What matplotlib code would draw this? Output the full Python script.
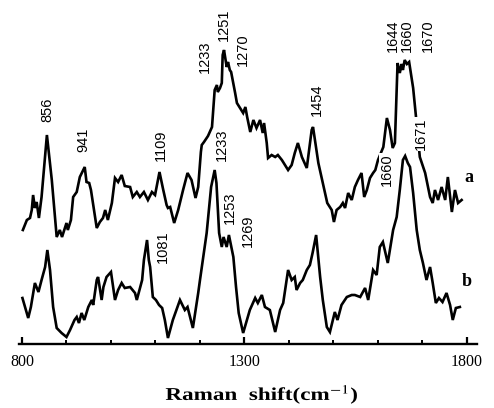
import matplotlib
matplotlib.use("Agg")
import matplotlib.pyplot as plt
from matplotlib.patheffects import AbstractPathEffect
from matplotlib.transforms import Affine2D
from matplotlib.ticker import MultipleLocator, FixedLocator

# ---- spectrum a (wavenumber in cm^-1, relative intensity) ----
shift_a = [802, 811, 818, 822, 825, 829, 833, 838, 844, 856, 867, 878, 885, 890,
           900, 903, 910, 915, 923, 930, 941, 945, 951, 955, 968, 975, 982, 987,
           993, 1002, 1009, 1016, 1024, 1031, 1043, 1049, 1058, 1065, 1074, 1083,
           1092, 1099, 1109, 1117, 1125, 1128, 1133, 1142, 1151, 1162, 1172, 1181,
           1190, 1196, 1202, 1204, 1209, 1215, 1218, 1227, 1233, 1238, 1240, 1245,
           1249, 1251, 1254, 1260, 1263, 1267, 1270, 1279, 1283, 1290, 1297, 1302,
           1306, 1313, 1320, 1327, 1335, 1341, 1344, 1350, 1353, 1361, 1369, 1375,
           1384, 1391, 1398, 1406, 1413, 1420, 1429, 1440, 1446, 1451, 1454, 1466,
           1476, 1486, 1496, 1501, 1507, 1515, 1521, 1526, 1533, 1541, 1548, 1555,
           1563, 1569, 1575, 1582, 1589, 1594, 1600, 1612, 1620, 1627, 1633, 1638,
           1644, 1649, 1653, 1656, 1660, 1665, 1670, 1679, 1685, 1690, 1694, 1706,
           1717, 1723, 1728, 1735, 1743, 1751, 1757, 1766, 1773, 1780, 1788]
inten_a = [114, 124, 126, 134, 149, 136, 142, 126, 147, 209, 164, 107, 114, 107,
           121, 114, 124, 147, 152, 167, 177, 162, 161, 154, 116, 122, 126, 134,
           124, 141, 166, 162, 169, 158, 157, 147, 152, 147, 152, 144,
           152, 149, 172, 155, 139, 136, 137, 121, 134, 154, 171, 164,
           146, 157, 192, 199, 202, 206, 208, 217, 254, 259, 252, 256,
           261, 289, 294, 277, 282, 274, 272, 251, 241, 236, 231, 237,
           227, 212, 224, 216, 224, 211, 221, 201, 186, 189, 187, 189,
           184, 179, 174, 179, 191, 201, 187, 176, 197, 214, 217, 181,
           161, 141, 134, 122, 134, 137, 141, 136, 151, 144, 157, 164,
           171, 147, 154, 166, 171, 174, 184, 197, 226, 214, 196, 201,
           281, 271, 280, 274, 284, 280, 282, 256, 229, 205, 187, 171,
           147, 141, 154, 144, 157, 144, 167, 132, 154, 141, 144]

# ---- spectrum b ----
shift_b = [801, 814, 820, 829, 837, 844, 852, 857, 863, 870, 878, 889, 900, 908,
           918, 923, 928, 934, 940, 949, 957, 960, 968, 971, 979, 983, 990, 1000,
           1009, 1016, 1024, 1031, 1043, 1054, 1058, 1070, 1074, 1081, 1085, 1088,
           1094, 1101, 1108, 1115, 1121, 1128, 1139, 1155, 1166, 1172, 1184, 1196,
           1200, 1215, 1225, 1233, 1237, 1243, 1249, 1253, 1260, 1265, 1275, 1281,
           1287, 1297, 1312, 1324, 1330, 1339, 1346, 1357, 1369, 1380, 1387, 1398,
           1406, 1413, 1417, 1425, 1431, 1440, 1447, 1453, 1461, 1470, 1476, 1485,
           1492, 1503, 1509, 1518, 1530, 1541, 1548, 1560, 1571, 1578, 1589, 1597,
           1604, 1611, 1622, 1634, 1642, 1649, 1656, 1661, 1667, 1672, 1679, 1687,
           1694, 1701, 1709, 1717, 1723, 1730, 1737, 1745, 1754, 1762, 1768, 1775,
           1784]
inten_b = [46, 26, 37, 61, 52, 64, 77, 94, 74, 37, 16, 11, 7, 14,
           24, 27, 21, 31, 24, 37, 44, 39, 64, 67, 44, 57, 67, 72,
           44, 54, 61, 56, 57, 51, 44, 64, 84, 104, 84, 77,
           47, 44, 39, 36, 24, 6, 24, 44, 34, 37, 16, 51,
           64, 111, 157, 174, 161, 111, 97, 107, 97, 109, 87, 57,
           31, 11, 34, 46, 41, 49, 37, 34, 12, 34, 41, 74,
           64, 67, 54, 61, 64, 74, 79, 91, 109, 67, 44, 17,
           12, 32, 24, 39, 47, 49, 49, 47, 56, 44, 74, 69,
           97, 102, 81, 114, 127, 154, 184, 188, 181, 177, 151, 114,
           94, 81, 64, 77, 61, 41, 46, 42, 51, 39, 24, 36,
           37]

# ---- peak annotations: text, x (cm^-1), y (intensity) ----
peak_text = ["856", "941", "1109", "1233", "1251", "1270", "1454", "1644", "1660", "1670",
             "1081", "1233", "1253", "1269", "1660", "1671"]
peak_x = [858, 939, 1112, 1211, 1254, 1297, 1463, 1634, 1665, 1713,
          1117, 1249, 1267, 1308, 1620, 1697]
peak_y = [234, 204, 199, 287, 319, 294, 244, 308, 308, 308,
          97, 199, 136, 113, 174, 210]

series_names = ["a", "b"]
series_label_x = [1805, 1800]
series_label_y = [166, 62]

tick_major = [800, 1300, 1800]


class HorizontalStretch(AbstractPathEffect):
    """Widen glyph outlines horizontally about the centre of the string."""

    def __init__(self, factor):
        super().__init__()
        self._factor = factor

    def draw_path(self, renderer, gc, tpath, affine, rgbFace=None):
        ext = tpath.get_extents(affine)
        cx = 0.5 * (ext.x0 + ext.x1)
        stretched = affine + Affine2D().translate(-cx, 0).scale(self._factor, 1).translate(cx, 0)
        renderer.draw_path(gc, tpath, stretched, rgbFace)


plt.rcParams["mathtext.fontset"] = "stix"

W, H = 494, 408
fig = plt.figure(figsize=(W / 100, H / 100), dpi=100)
ax = fig.add_axes([19 / W, 64 / H, 458 / W, 344 / H])

ax.plot(shift_a, inten_a, color="black", lw=1.9, solid_joinstyle="miter", zorder=2)
ax.plot(shift_b, inten_b, color="black", lw=1.9, solid_joinstyle="miter", zorder=2)

for t, x, y in zip(peak_text, peak_x, peak_y):
    ax.text(x, y, t, rotation=90, ha="center", va="center",
            fontsize=10.5, family="Liberation Sans", color="black", zorder=3,
            bbox=dict(facecolor="white", edgecolor="none", pad=0.6))

for t, x, y in zip(series_names, series_label_x, series_label_y):
    ax.text(x, y, t, ha="center", va="center", fontsize=13,
            family="Liberation Serif", fontweight="bold", zorder=3)

ax.set_xlim(793.3, 1822.5)
ax.set_ylim(0, 344)
for side in ("top", "left", "right"):
    ax.spines[side].set_visible(False)
ax.spines["bottom"].set_linewidth(1.7)
ax.set_yticks([])
ax.xaxis.set_major_locator(FixedLocator(tick_major))
ax.xaxis.set_minor_locator(MultipleLocator(100))
ax.tick_params(axis="x", which="major", direction="in", length=5, width=1.6, pad=7,
               labelsize=11.5)
ax.tick_params(axis="x", which="minor", direction="in", length=3, width=1.4)
for lab in ax.get_xticklabels():
    lab.set_family("Liberation Serif")

fig.text(262 / W, 1 - 400 / H, "Raman  shift(cm$^{-1}$)", ha="center", va="baseline",
         fontsize=13, family="Liberation Serif", fontweight="bold",
         path_effects=[HorizontalStretch(1.28)])

fig.savefig("out.png", dpi=100)
